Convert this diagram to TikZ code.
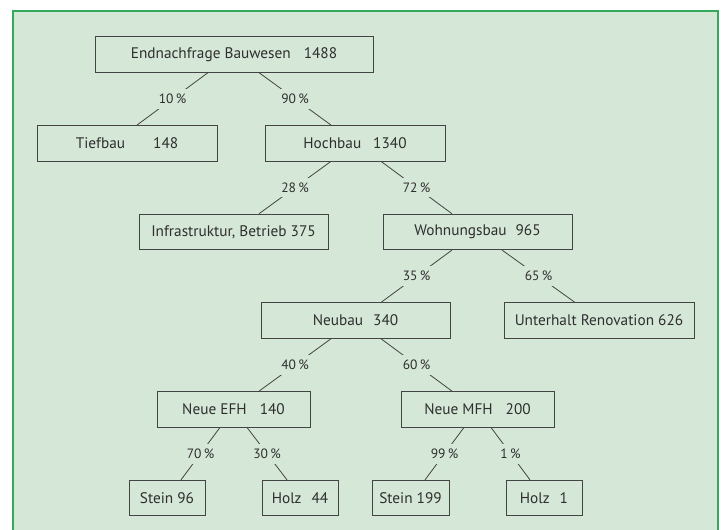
\documentclass[tikz,border=0pt]{standalone}
\usepackage{fontspec}
\setmainfont{PT Sans}
\usepackage{tikz}
\definecolor{bggreen}{HTML}{D5E7D7}
\definecolor{framegreen}{HTML}{34A95C}
\definecolor{textgray}{HTML}{2E2E2E}
\definecolor{linegray}{HTML}{444444}

\begin{document}
\begin{tikzpicture}[x=1pt,y=-1pt,node distance=88.7pt,line width=0.8pt,
  draw=linegray,text=textgray]
\tikzstyle{every node}=[font=\fontsize{15.3}{17}\selectfont]
\tikzstyle{box}=[draw=linegray,rectangle,minimum height=35.5pt,inner sep=0pt]
\tikzstyle{share}=[fill=bggreen,inner sep=5pt,font=\fontsize{13.5}{15}\selectfont]
\useasboundingbox (0,0) rectangle (726,530);
\fill[bggreen] (13,11) rectangle (718,530);
\draw[framegreen,line width=1.5pt] (13,531) -- (13,11) -- (718,11) -- (718,531);
% tree
\node[box,minimum width=278pt] (top) at (234,54.5) {Endnachfrage Bauwesen\hspace{13pt}1488};
\node[box,minimum width=180pt] (tief)   [below of=top,xshift=-107pt] {Tiefbau\hspace{28pt}148};
\node[box,minimum width=180pt] (hoch)   [below of=top,xshift=121pt]  {Hochbau\hspace{12pt}1340};
\node[box,minimum width=189pt] (infra)  [below of=hoch,xshift=-121.5pt] {Infrastruktur, Betrieb 375};
\node[box,minimum width=189pt] (wohn)   [below of=hoch,xshift=122.5pt]  {Wohnungsbau\hspace{9pt}965};
\node[box,minimum width=189pt] (neu)    [below of=wohn,xshift=-122pt]   {Neubau\hspace{10pt}340};
\node[box,minimum width=190pt] (unter)  [below of=wohn,xshift=121.5pt]  {Unterhalt Renovation 626};
\node[box,minimum width=153pt] (efh)    [below of=neu,xshift=-122pt]    {Neue EFH\hspace{13pt}140};
\node[box,minimum width=153pt] (mfh)    [below of=neu,xshift=122pt]     {Neue MFH\hspace{13pt}200};
\node[box,minimum width=76pt]  (stein1) [below of=efh,xshift=-66.5pt]   {Stein 96};
\node[box,minimum width=76pt]  (holz1)  [below of=efh,xshift=66.5pt]    {Holz\hspace{10pt}44};
\node[box,minimum width=77pt]  (stein2) [below of=mfh,xshift=-67pt]     {Stein 199};
\node[box,minimum width=76pt]  (holz2)  [below of=mfh,xshift=66.5pt]    {Holz\hspace{10pt}1};
\path ([xshift=-26pt]top.south)  edge node[share]{10\,\%} ([xshift=10pt]tief.north)
      ([xshift=25pt]top.south)   edge node[share]{90\,\%} ([xshift=-24pt]hoch.north)
      ([xshift=-24pt]hoch.south) edge node[share]{28\,\%} ([xshift=25.5pt]infra.north)
      ([xshift=26pt]hoch.south)  edge node[share]{72\,\%} ([xshift=-25.5pt]wohn.north)
      ([xshift=-25.5pt]wohn.south) edge node[share]{35\,\%} ([xshift=25.5pt]neu.north)
      ([xshift=24.5pt]wohn.south)  edge node[share]{65\,\%} ([xshift=-24pt]unter.north)
      ([xshift=-24.5pt]neu.south)  edge node[share]{40\,\%} ([xshift=25.5pt]efh.north)
      ([xshift=25.5pt]neu.south)   edge node[share]{60\,\%} ([xshift=-25.5pt]mfh.north)
      ([xshift=-13.5pt]efh.south)  edge node[share]{70\,\%} ([xshift=14pt]stein1.north)
      ([xshift=13.5pt]efh.south)   edge node[share]{30\,\%} ([xshift=-13pt]holz1.north)
      ([xshift=-13.5pt]mfh.south)  edge node[share]{99\,\%} ([xshift=14.5pt]stein2.north)
      ([xshift=13.5pt]mfh.south)   edge node[share]{1\,\%}  ([xshift=-14pt]holz2.north);
\end{tikzpicture}
\end{document}
